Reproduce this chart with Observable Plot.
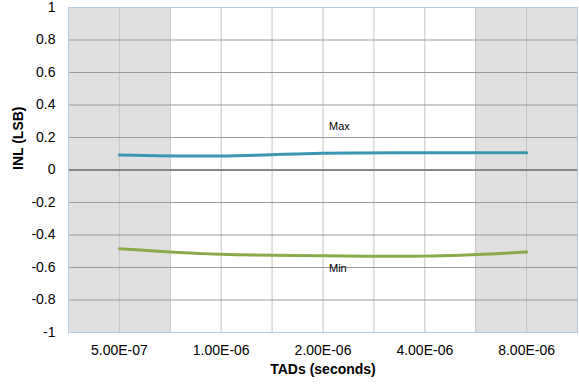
<!DOCTYPE html>
<html>
<head>
<meta charset="utf-8">
<script src="https://cdn.jsdelivr.net/npm/d3@7"></script>
<script src="https://cdn.jsdelivr.net/npm/@observablehq/plot@0.6"></script>
<style>
  html, body { margin: 0; padding: 0; background: #fff; }
  svg { display: block; }
</style>
</head>
<body>
<div id="chart"></div>
<script>
const categories = ["5.00E-07", "1.00E-06", "2.00E-06", "4.00E-06", "8.00E-06"];
const maxValues = [0.092, 0.086, 0.103, 0.106, 0.106];
const minValues = [-0.484, -0.519, -0.527, -0.530, -0.505];
const yTicks = [-1, -0.8, -0.6, -0.4, -0.2, 0, 0.2, 0.4, 0.6, 0.8, 1];
const yTickLabels = ["-1", "-0.8", "-0.6", "-0.4", "-0.2", "0", "0.2", "0.4", "0.6", "0.8", "1"];
const shadedCategories = ["5.00E-07", "8.00E-06"];
const seriesLabels = [
  {name: "Max", cat: "2.00E-06", value: 0.265},
  {name: "Min", cat: "2.00E-06", value: -0.603}
];

const idx = c => categories.indexOf(c);
const maxData = categories.map((c, i) => ({i, v: maxValues[i]}));
const minData = categories.map((c, i) => ({i, v: minValues[i]}));
const shaded = shadedCategories.map(c => ({x1: idx(c) - 0.5, x2: idx(c) + 0.5}));
const vGrid = d3.range(-0.5, categories.length, 0.5).filter(v => v > -0.5 && v < categories.length - 0.5);
const hGrid = yTicks.filter(v => v !== 0 && v !== -1 && v !== 1);

const font = "'Liberation Sans', Arial, sans-serif";

const chart = Plot.plot({
  width: 579,
  height: 385,
  marginLeft: 68,
  marginRight: 2,
  marginTop: 7,
  marginBottom: 53,
  style: {fontFamily: font, fontSize: "14px", color: "#000", background: "#fff"},
  x: {type: "linear", domain: [-0.5, categories.length - 0.5], axis: null},
  y: {domain: [-1, 1], axis: null},
  marks: [
    Plot.rect(shaded, {x1: "x1", x2: "x2", y1: -1, y2: 1, fill: "#e0e0e0"}),
    Plot.ruleX(vGrid, {stroke: "#c4c4c4", strokeWidth: 1}),
    Plot.ruleY(hGrid, {stroke: "#9c9c9c", strokeWidth: 1}),
    Plot.ruleY([0], {stroke: "#868686", strokeWidth: 2}),
    Plot.frame({stroke: "#b8c9e4", strokeWidth: 1}),
    Plot.axisY({
      ticks: yTicks,
      tickFormat: (d) => yTickLabels[yTicks.indexOf(d)],
      tickSize: 0,
      tickPadding: 13,
      label: null,
      fontSize: 14
    }),
    Plot.axisX({
      ticks: d3.range(categories.length),
      tickFormat: (d) => categories[d],
      tickSize: 0,
      tickPadding: 13,
      label: null,
      fontSize: 14
    }),
    Plot.line(maxData, {x: "i", y: "v", stroke: "#3b96b0", strokeWidth: 3, curve: "catmull-rom"}),
    Plot.line(minData, {x: "i", y: "v", stroke: "#8aab4b", strokeWidth: 3, curve: "catmull-rom"}),
    Plot.text(seriesLabels, {x: d => idx(d.cat), y: "value", text: "name", textAnchor: "start", dx: 6, fontSize: 11, fill: "#000"}),
    Plot.text(["TADs (seconds)"], {frameAnchor: "bottom", dy: 41, fontWeight: "bold", fontSize: 14, fill: "#000"}),
    Plot.text(["INL (LSB)"], {frameAnchor: "left", dx: -50, rotate: -90, fontWeight: "bold", fontSize: 14, fill: "#000"})
  ]
});
document.getElementById("chart").appendChild(chart);
</script>
</body>
</html>
